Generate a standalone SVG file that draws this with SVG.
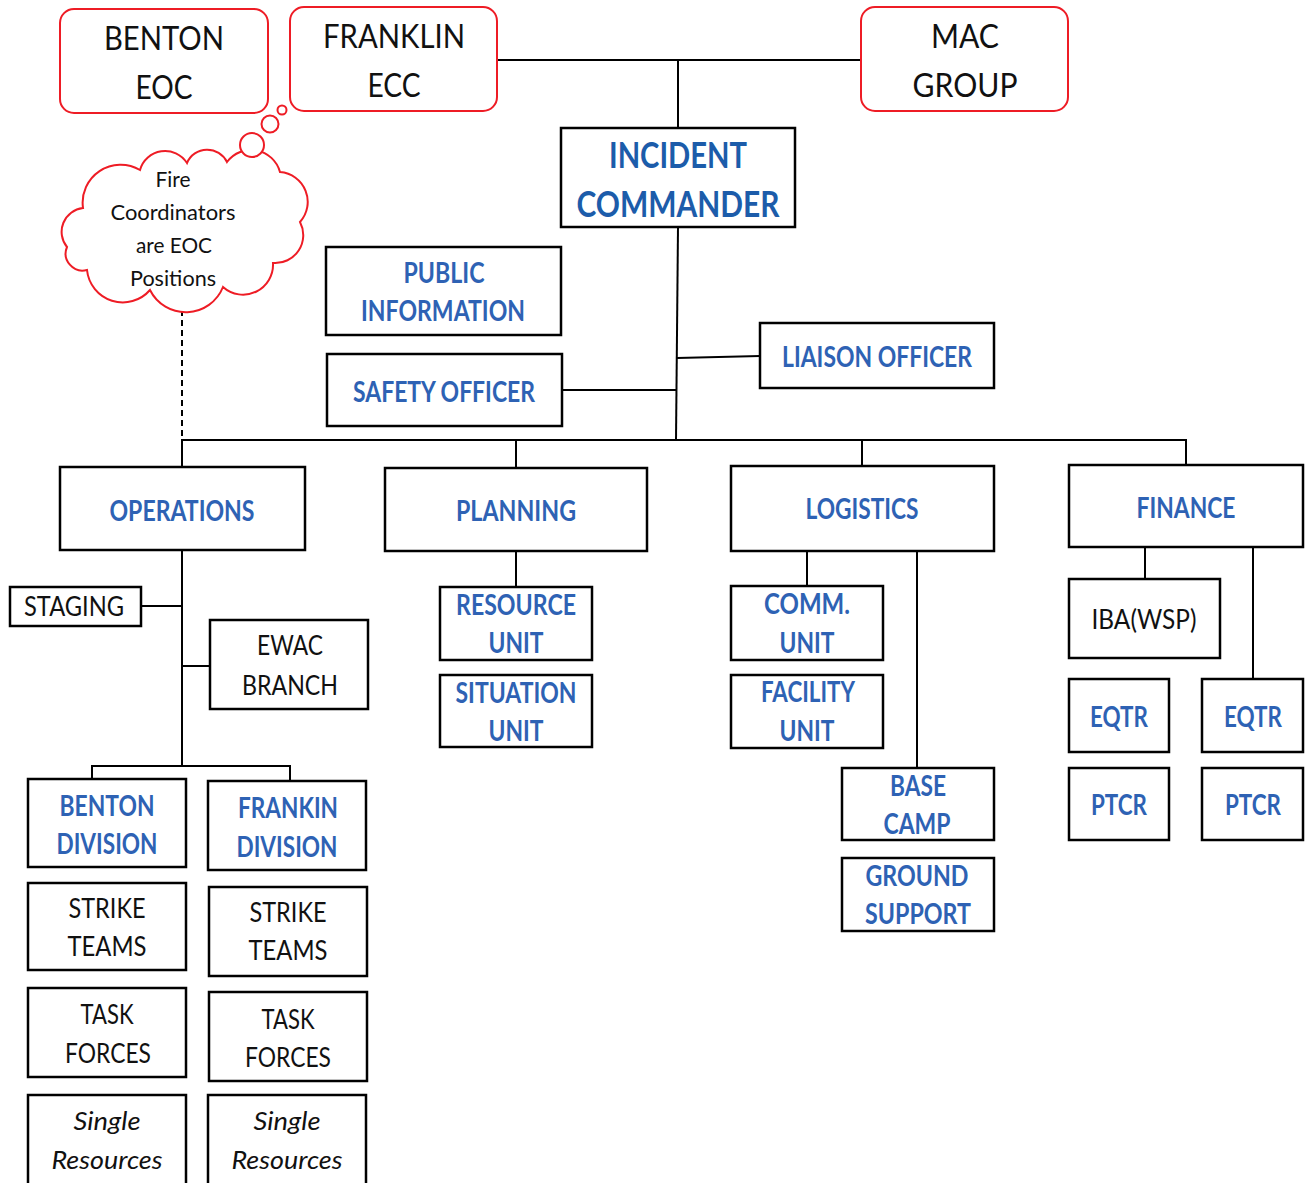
<svg xmlns="http://www.w3.org/2000/svg" width="1307" height="1183" viewBox="0 0 1307 1183">
<style>
.red{fill:#fff;stroke:#EE1C25;stroke-width:2}
.box{fill:#fff;stroke:#000;stroke-width:2.5}
.ln{fill:none;stroke:#000;stroke-width:2}
text{font-family:Lato,"Open Sans","Liberation Sans",sans-serif;text-anchor:middle}
.rt{font-size:33px;fill:#111}
.bt{font-size:28px;font-weight:bold;fill:#2E62B4}
.ic{font-size:36px;font-weight:bold;fill:#1C5CAA}
.kt{font-size:26px;fill:#111}
.it{font-size:26px;fill:#111;font-style:italic}
.ct{font-size:21px;fill:#111}
</style>
<rect width="1307" height="1183" fill="#fff"/>
<g id="connectors">
<line class="ln" x1="497" y1="60" x2="861" y2="60"/>
<line class="ln" x1="678" y1="60" x2="678" y2="128"/>
<line class="ln" x1="678" y1="227" x2="676" y2="440"/>
<line class="ln" x1="562" y1="390" x2="676" y2="390"/>
<line class="ln" x1="677" y1="358" x2="760" y2="356"/>
<line class="ln" x1="181" y1="440" x2="1187" y2="440"/>
<line class="ln" x1="182" y1="440" x2="182" y2="467"/>
<line class="ln" x1="516" y1="440" x2="516" y2="468"/>
<line class="ln" x1="862" y1="440" x2="862" y2="466"/>
<line class="ln" x1="1186" y1="440" x2="1186" y2="465"/>
<line class="ln" x1="182" y1="310" x2="182" y2="440" stroke-dasharray="6,4"/>
<line class="ln" x1="182" y1="550" x2="182" y2="766"/>
<line class="ln" x1="141" y1="606" x2="182" y2="606"/>
<line class="ln" x1="182" y1="666" x2="210" y2="666"/>
<polyline class="ln" points="92,779 92,766 290,766 290,781"/>
<line class="ln" x1="516" y1="551" x2="516" y2="587"/>
<line class="ln" x1="807" y1="551" x2="807" y2="586"/>
<line class="ln" x1="917" y1="551" x2="917" y2="768"/>
<line class="ln" x1="1145" y1="547" x2="1145" y2="579"/>
<line class="ln" x1="1253" y1="547" x2="1253" y2="679"/>
</g>
<g id="benton-eoc"><rect class="red" x="60" y="9" width="208" height="104" rx="14"/><text class="rt" x="164" y="50" textLength="120" lengthAdjust="spacingAndGlyphs">BENTON</text><text class="rt" x="164" y="99" textLength="57" lengthAdjust="spacingAndGlyphs">EOC</text></g>
<g id="franklin-ecc"><rect class="red" x="290" y="7" width="207" height="104" rx="14"/><text class="rt" x="394" y="48" textLength="142" lengthAdjust="spacingAndGlyphs">FRANKLIN</text><text class="rt" x="394" y="97" textLength="53" lengthAdjust="spacingAndGlyphs">ECC</text></g>
<g id="mac-group"><rect class="red" x="861" y="7" width="207" height="104" rx="14"/><text class="rt" x="965" y="48" textLength="68" lengthAdjust="spacingAndGlyphs">MAC</text><text class="rt" x="965" y="97" textLength="105" lengthAdjust="spacingAndGlyphs">GROUP</text></g>
<g id="fire-cloud">
<path class="red" d="M83,208 A38,38 0 0 1 140,170 A26,26 0 0 1 187,163 A22,22 0 0 1 227,162 A30,30 0 0 1 280,172 A30,30 0 0 1 300,222 A28,28 0 0 1 273,263 A30,30 0 0 1 223,287 A40,40 0 0 1 150,290 A36,36 0 0 1 87,270 A17,17 0 0 1 67,247 A24,24 0 0 1 83,208 Z"/>
<circle class="red" cx="252" cy="145" r="12"/>
<circle class="red" cx="270" cy="124" r="8.5"/>
<circle class="red" cx="282" cy="110" r="4.5"/>
<text class="ct" x="173" y="187" textLength="35" lengthAdjust="spacingAndGlyphs">Fire</text>
<text class="ct" x="173" y="220" textLength="125" lengthAdjust="spacingAndGlyphs">Coordinators</text>
<text class="ct" x="174" y="253" textLength="76" lengthAdjust="spacingAndGlyphs">are EOC</text>
<text class="ct" x="173" y="286" textLength="86" lengthAdjust="spacingAndGlyphs">Positions</text>
</g>
<g id="incident-commander"><rect class="box" x="561" y="128" width="234" height="99"/><text class="ic" x="678" y="168" textLength="138" lengthAdjust="spacingAndGlyphs">INCIDENT</text><text class="ic" x="678" y="217" textLength="203" lengthAdjust="spacingAndGlyphs">COMMANDER</text></g>
<g id="public-information"><rect class="box" x="326" y="247" width="235" height="88"/><text class="bt" x="444" y="283" textLength="81" lengthAdjust="spacingAndGlyphs">PUBLIC</text><text class="bt" x="443" y="321" textLength="164" lengthAdjust="spacingAndGlyphs">INFORMATION</text></g>
<g id="safety-officer"><rect class="box" x="327" y="354" width="235" height="72"/><text class="bt" x="444" y="402" textLength="182" lengthAdjust="spacingAndGlyphs">SAFETY OFFICER</text></g>
<g id="liaison-officer"><rect class="box" x="760" y="323" width="234" height="65"/><text class="bt" x="877" y="367" textLength="190" lengthAdjust="spacingAndGlyphs">LIAISON OFFICER</text></g>
<g id="operations"><rect class="box" x="60" y="467" width="245" height="83"/><text class="bt" x="182" y="521" textLength="145" lengthAdjust="spacingAndGlyphs">OPERATIONS</text></g>
<g id="planning"><rect class="box" x="385" y="468" width="262" height="83"/><text class="bt" x="516" y="521" textLength="120" lengthAdjust="spacingAndGlyphs">PLANNING</text></g>
<g id="logistics"><rect class="box" x="731" y="466" width="263" height="85"/><text class="bt" x="862" y="519" textLength="113" lengthAdjust="spacingAndGlyphs">LOGISTICS</text></g>
<g id="finance"><rect class="box" x="1069" y="465" width="234" height="82"/><text class="bt" x="1186" y="518" textLength="99" lengthAdjust="spacingAndGlyphs">FINANCE</text></g>
<g id="staging"><rect class="box" x="10" y="587" width="131" height="39"/><text class="kt" x="74" y="616" textLength="100" lengthAdjust="spacingAndGlyphs">STAGING</text></g>
<g id="ewac-branch"><rect class="box" x="210" y="620" width="158" height="89"/><text class="kt" x="290" y="655" textLength="66" lengthAdjust="spacingAndGlyphs">EWAC</text><text class="kt" x="290" y="695" textLength="96" lengthAdjust="spacingAndGlyphs">BRANCH</text></g>
<g id="benton-division"><rect class="box" x="28" y="779" width="158" height="88"/><text class="bt" x="107" y="816" textLength="95" lengthAdjust="spacingAndGlyphs">BENTON</text><text class="bt" x="107" y="854" textLength="101" lengthAdjust="spacingAndGlyphs">DIVISION</text></g>
<g id="frankin-division"><rect class="box" x="208" y="781" width="158" height="89"/><text class="bt" x="288" y="818" textLength="100" lengthAdjust="spacingAndGlyphs">FRANKIN</text><text class="bt" x="287" y="857" textLength="101" lengthAdjust="spacingAndGlyphs">DIVISION</text></g>
<g id="strike-teams-1"><rect class="box" x="28" y="883" width="158" height="87"/><text class="kt" x="107" y="918" textLength="77" lengthAdjust="spacingAndGlyphs">STRIKE</text><text class="kt" x="107" y="956" textLength="79" lengthAdjust="spacingAndGlyphs">TEAMS</text></g>
<g id="strike-teams-2"><rect class="box" x="209" y="887" width="158" height="89"/><text class="kt" x="288" y="922" textLength="77" lengthAdjust="spacingAndGlyphs">STRIKE</text><text class="kt" x="288" y="960" textLength="79" lengthAdjust="spacingAndGlyphs">TEAMS</text></g>
<g id="task-forces-1"><rect class="box" x="28" y="988" width="158" height="89"/><text class="kt" x="107" y="1024" textLength="53" lengthAdjust="spacingAndGlyphs">TASK</text><text class="kt" x="108" y="1063" textLength="86" lengthAdjust="spacingAndGlyphs">FORCES</text></g>
<g id="task-forces-2"><rect class="box" x="209" y="992" width="158" height="89"/><text class="kt" x="288" y="1029" textLength="53" lengthAdjust="spacingAndGlyphs">TASK</text><text class="kt" x="288" y="1067" textLength="86" lengthAdjust="spacingAndGlyphs">FORCES</text></g>
<g id="single-resources-1"><rect class="box" x="28" y="1095" width="158" height="95"/><text class="it" x="107" y="1130" textLength="67" lengthAdjust="spacingAndGlyphs">Single</text><text class="it" x="107" y="1169" textLength="111" lengthAdjust="spacingAndGlyphs">Resources</text></g>
<g id="single-resources-2"><rect class="box" x="208" y="1095" width="158" height="95"/><text class="it" x="287" y="1130" textLength="67" lengthAdjust="spacingAndGlyphs">Single</text><text class="it" x="287" y="1169" textLength="111" lengthAdjust="spacingAndGlyphs">Resources</text></g>
<g id="resource-unit"><rect class="box" x="440" y="587" width="152" height="73"/><text class="bt" x="516" y="615" textLength="120" lengthAdjust="spacingAndGlyphs">RESOURCE</text><text class="bt" x="516" y="653" textLength="55" lengthAdjust="spacingAndGlyphs">UNIT</text></g>
<g id="situation-unit"><rect class="box" x="440" y="675" width="152" height="72"/><text class="bt" x="516" y="703" textLength="121" lengthAdjust="spacingAndGlyphs">SITUATION</text><text class="bt" x="516" y="741" textLength="55" lengthAdjust="spacingAndGlyphs">UNIT</text></g>
<g id="comm-unit"><rect class="box" x="731" y="586" width="152" height="74"/><text class="bt" x="807" y="614" textLength="86" lengthAdjust="spacingAndGlyphs">COMM.</text><text class="bt" x="807" y="653" textLength="55" lengthAdjust="spacingAndGlyphs">UNIT</text></g>
<g id="facility-unit"><rect class="box" x="731" y="675" width="152" height="73"/><text class="bt" x="808" y="702" textLength="94" lengthAdjust="spacingAndGlyphs">FACILITY</text><text class="bt" x="807" y="741" textLength="55" lengthAdjust="spacingAndGlyphs">UNIT</text></g>
<g id="base-camp"><rect class="box" x="842" y="768" width="152" height="72"/><text class="bt" x="918" y="796" textLength="56" lengthAdjust="spacingAndGlyphs">BASE</text><text class="bt" x="917" y="834" textLength="67" lengthAdjust="spacingAndGlyphs">CAMP</text></g>
<g id="ground-support"><rect class="box" x="842" y="858" width="152" height="73"/><text class="bt" x="917" y="886" textLength="103" lengthAdjust="spacingAndGlyphs">GROUND</text><text class="bt" x="918" y="924" textLength="106" lengthAdjust="spacingAndGlyphs">SUPPORT</text></g>
<g id="iba-wsp"><rect class="box" x="1069" y="579" width="151" height="79"/><text class="kt" x="1144" y="629" textLength="105" lengthAdjust="spacingAndGlyphs">IBA(WSP)</text></g>
<g id="eqtr-1"><rect class="box" x="1069" y="679" width="100" height="73"/><text class="bt" x="1119" y="727" textLength="58" lengthAdjust="spacingAndGlyphs">EQTR</text></g>
<g id="eqtr-2"><rect class="box" x="1202" y="679" width="101" height="73"/><text class="bt" x="1253" y="727" textLength="58" lengthAdjust="spacingAndGlyphs">EQTR</text></g>
<g id="ptcr-1"><rect class="box" x="1069" y="768" width="100" height="72"/><text class="bt" x="1119" y="815" textLength="56" lengthAdjust="spacingAndGlyphs">PTCR</text></g>
<g id="ptcr-2"><rect class="box" x="1202" y="768" width="101" height="72"/><text class="bt" x="1253" y="815" textLength="56" lengthAdjust="spacingAndGlyphs">PTCR</text></g>
</svg>
